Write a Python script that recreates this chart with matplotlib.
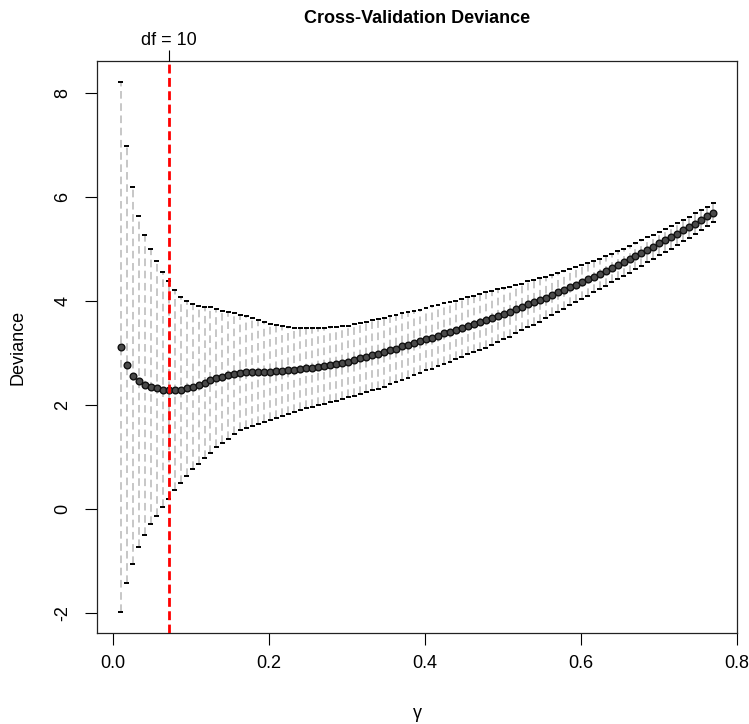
import numpy as np
import matplotlib
matplotlib.use("Agg")
import matplotlib.pyplot as plt

plt.rcParams['font.family'] = ['Liberation Sans', 'DejaVu Sans']
plt.rcParams['axes.unicode_minus'] = False

# gamma grid, seq(0.01, 0.77, length = 100)
gamma = np.linspace(0.01, 0.77, 100)

cv_mean = [3.11, 2.77, 2.56, 2.45, 2.38, 2.35, 2.32, 2.29, 2.28, 2.28,
           2.29, 2.32, 2.35, 2.38, 2.42, 2.47, 2.51, 2.54, 2.57, 2.60,
           2.62, 2.63, 2.63, 2.63, 2.63, 2.63, 2.64, 2.65, 2.66, 2.67,
           2.68, 2.70, 2.71, 2.73, 2.75, 2.77, 2.79, 2.81, 2.83, 2.86,
           2.89, 2.92, 2.95, 2.98, 3.01, 3.05, 3.08, 3.12, 3.15, 3.19,
           3.22, 3.26, 3.29, 3.33, 3.37, 3.40, 3.44, 3.48, 3.52, 3.55,
           3.59, 3.63, 3.67, 3.71, 3.75, 3.79, 3.84, 3.88, 3.93, 3.97,
           4.02, 4.06, 4.11, 4.16, 4.21, 4.26, 4.31, 4.36, 4.41, 4.46,
           4.52, 4.57, 4.63, 4.68, 4.74, 4.80, 4.86, 4.92, 4.98, 5.04,
           5.10, 5.16, 5.22, 5.28, 5.35, 5.41, 5.48, 5.55, 5.62, 5.69]

cv_sd = [5.09, 4.20, 3.62, 3.18, 2.88, 2.64, 2.45, 2.26, 2.10, 1.92,
         1.79, 1.68, 1.58, 1.51, 1.45, 1.40, 1.33, 1.27, 1.22, 1.16,
         1.11, 1.07, 1.03, 1.00, 0.96, 0.93, 0.89, 0.86, 0.84, 0.81,
         0.79, 0.77, 0.76, 0.74, 0.73, 0.72, 0.71, 0.70, 0.69, 0.69,
         0.68, 0.68, 0.67, 0.67, 0.66, 0.66, 0.65, 0.64, 0.63, 0.62,
         0.61, 0.60, 0.60, 0.59, 0.58, 0.57, 0.56, 0.56, 0.55, 0.54,
         0.53, 0.53, 0.52, 0.51, 0.49, 0.48, 0.47, 0.45, 0.44, 0.43,
         0.42, 0.40, 0.39, 0.38, 0.36, 0.35, 0.34, 0.33, 0.31, 0.30,
         0.29, 0.28, 0.27, 0.27, 0.26, 0.26, 0.25, 0.25, 0.24, 0.23,
         0.23, 0.22, 0.22, 0.21, 0.21, 0.20, 0.20, 0.19, 0.19, 0.18]

best_idx = 8
best_label = "df = 10"
x_ticks = [0.0, 0.2, 0.4, 0.6, 0.8]
y_ticks = [-2, 0, 2, 4, 6, 8]

cv_mean = np.array(cv_mean)
cv_sd = np.array(cv_sd)
cv_up = cv_mean + cv_sd
cv_lo = cv_mean - cv_sd

fig = plt.figure(figsize=(7.49, 7.24), dpi=100)
ax = fig.add_axes([0.1295, 0.1257, 0.8545, 0.79])

# error bars: grey dashed segments with black caps
ax.vlines(gamma, cv_lo, cv_up, colors='#b8b8b8', linestyles=(0, (5, 3)), linewidth=1.1, zorder=1)
cap = 0.0031
ax.hlines(cv_up, gamma - cap, gamma + cap, colors='black', linewidth=1.4, zorder=2)
ax.hlines(cv_lo, gamma - cap, gamma + cap, colors='black', linewidth=1.4, zorder=2)

ax.plot(gamma, cv_mean, 'o', markersize=4.8, markerfacecolor='#4a4a4a',
        markeredgecolor='#111111', markeredgewidth=1, zorder=3)

ax.axvline(gamma[best_idx], color='red', linestyle=(0, (3.2, 1.6)), linewidth=2, zorder=4)

# R-style 4% padding
xr = gamma.max() - gamma.min()
yr = cv_up.max() - cv_lo.min()
ax.set_xlim(gamma.min() - 0.04 * xr, gamma.max() + 0.04 * xr)
ax.set_ylim(cv_lo.min() - 0.04 * yr, cv_up.max() + 0.04 * yr)

ax.set_xticks(x_ticks)
ax.set_xticklabels([f"{v:.1f}" for v in x_ticks])
ax.set_yticks(y_ticks)
ax.set_yticklabels([str(v) for v in y_ticks])
ax.tick_params(axis='x', length=8.5, width=0.8, labelsize=13, pad=7)
ax.tick_params(axis='y', length=8.5, width=0.8, labelsize=13, pad=10, labelrotation=90)
for lab in ax.get_yticklabels():
    lab.set_verticalalignment('center')

for sp in ax.spines.values():
    sp.set_linewidth(0.9)
    sp.set_color('#222222')

top = ax.twiny()
top.set_xlim(ax.get_xlim())
top.set_xticks([gamma[best_idx]])
top.set_xticklabels([best_label])
top.tick_params(axis='x', length=8, width=0.8, labelsize=13, pad=1)
for sp in top.spines.values():
    sp.set_visible(False)

ax.set_xlabel("γ", fontsize=13, labelpad=24)
ax.set_ylabel("Deviance", fontsize=13, labelpad=20)
fig.text(0.557, 0.975, "Cross-Validation Deviance", ha='center', va='center',
         fontsize=13, fontweight='bold')

fig.savefig("out.png", dpi=100)
